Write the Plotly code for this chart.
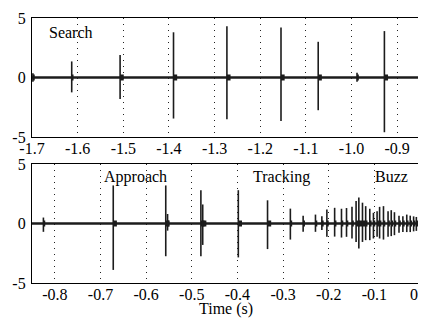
import plotly.graph_objects as go
from plotly.subplots import make_subplots

# ---- data ----
top_window = [-1.7, -0.85]
top_click_t = [-1.698, -1.613, -1.507, -1.390, -1.273, -1.1545, -1.073, -0.988, -0.928]
top_click_hi = [0.35, 1.35, 1.9, 3.8, 4.3, 4.2, 3.0, 0.4, 3.9]
top_click_lo = [-0.35, -1.25, -1.8, -3.45, -3.5, -3.65, -2.75, -0.35, -4.6]

bot_window = [-0.85, 0.0]
bot_click_t = [-0.825, -0.672, -0.557, -0.553, -0.480, -0.476, -0.398, -0.334, -0.284,
               -0.256, -0.229, -0.215,
               -0.204, -0.187, -0.172, -0.161, -0.149, -0.140, -0.134, -0.126, -0.119,
               -0.110, -0.102, -0.094, -0.0885, -0.080, -0.070, -0.063, -0.056, -0.046,
               -0.0375, -0.029, -0.0214, -0.014, -0.008]
bot_click_hi = [0.5, 3.2, 3.2, 0.8, 2.8, 1.6, 2.8, 1.95, 1.25,
                0.65, 0.75, 0.6,
                1.18, 1.32, 1.24, 1.3, 1.4, 1.9, 2.18, 1.75, 1.46,
                1.24, 0.9, 1.03, 1.4, 1.46, 1.03, 1.12, 0.95, 0.66,
                0.6, 0.75, 0.66, 0.6, 0.55]
bot_click_lo = [-0.7, -3.9, -2.75, -0.6, -2.75, -1.8, -2.85, -2.15, -1.35,
                -0.7, -0.7, -0.55,
                -1.12, -1.1, -1.18, -1.12, -1.26, -1.55, -2.1, -1.55, -1.4,
                -1.4, -1.26, -1.12, -1.26, -1.35, -1.12, -1.06, -0.98, -0.78,
                -0.72, -0.72, -0.72, -0.66, -0.62]

top_ticks = [-1.7, -1.6, -1.5, -1.4, -1.3, -1.2, -1.1, -1.0, -0.9]
top_ticktext = ["-1.7", "-1.6", "-1.5", "-1.4", "-1.3", "-1.2", "-1.1", "-1.0", "-0.9"]
bot_ticks = [-0.8, -0.7, -0.6, -0.5, -0.4, -0.3, -0.2, -0.1, 0.0]
bot_ticktext = ["-0.8", "-0.7", "-0.6", "-0.5", "-0.4", "-0.3", "-0.2", "-0.1", "0.0"]
y_ticks = [-5, 0, 5]
y_ticktext = ["-5", "0", "5"]

labels_top = [("Search", -1.668, 3.75)]
labels_bot = [("Approach", -0.697, 3.95), ("Tracking", -0.371, 3.95), ("Buzz", -0.104, 3.95)]
x_title = "Time (s)"

INK = "#1c1c1c"
FONT = "Liberation Serif"

fig = make_subplots(rows=2, cols=1, vertical_spacing=0.102)


def add_panel(row, window, ts, his, los):
    # baseline noise
    fig.add_trace(go.Scatter(x=window, y=[0, 0], mode="lines",
                             line=dict(color=INK, width=2.6), hoverinfo="skip",
                             showlegend=False), row=row, col=1)
    # click tails (dense ringing just after each click)
    tx, ty = [], []
    for t, h in zip(ts, his):
        tx += [t, t + 0.008 if h > 1.5 else t + 0.004, None]
        ty += [0, 0, None]
    fig.add_trace(go.Scatter(x=tx, y=ty, mode="lines",
                             line=dict(color=INK, width=6), hoverinfo="skip",
                             showlegend=False), row=row, col=1)
    # click peaks
    xs, ys = [], []
    for t, h, l in zip(ts, his, los):
        xs += [t, t, None]
        ys += [l, h, None]
    fig.add_trace(go.Scatter(x=xs, y=ys, mode="lines",
                             line=dict(color=INK, width=1.6), hoverinfo="skip",
                             showlegend=False), row=row, col=1)


add_panel(1, top_window, top_click_t, top_click_hi, top_click_lo)
add_panel(2, bot_window, bot_click_t, bot_click_hi, bot_click_lo)

axis_common = dict(showline=True, mirror=True, linecolor="black", linewidth=1.3,
                   ticks="", zeroline=False, automargin=False,
                   tickfont=dict(family=FONT, size=16, color="black"))

grid_style = dict(showgrid=True, gridcolor="#222", griddash="1px,5px", gridwidth=1,
                  ticklabelstandoff=-3, ticklabeloverflow="allow")

fig.update_xaxes(range=top_window, tickvals=top_ticks, ticktext=top_ticktext,
                 row=1, col=1, **grid_style, **axis_common)
fig.update_xaxes(range=bot_window, tickvals=bot_ticks, ticktext=bot_ticktext,
                 row=2, col=1, **grid_style, **axis_common)
fig.update_yaxes(range=[-5, 5], tickvals=y_ticks, ticktext=y_ticktext, showgrid=False,
                 ticklabelstandoff=2, **axis_common)

for txt, x, y in labels_top:
    fig.add_annotation(x=x, y=y, text=txt, showarrow=False, xanchor="left",
                       font=dict(family=FONT, size=16, color="black"), xref="x", yref="y")
for txt, x, y in labels_bot:
    fig.add_annotation(x=x, y=y, text=txt, showarrow=False, xanchor="left",
                       font=dict(family=FONT, size=16, color="black"), xref="x2", yref="y2")

fig.add_annotation(x=0.5, y=-0.058, xref="paper", yref="paper", text=x_title,
                   showarrow=False, yanchor="top",
                   font=dict(family=FONT, size=16, color="black"))

# the page body adds an 8px offset, so the figure is sized to fit the 426x323 window
fig.update_layout(width=418, height=315, margin=dict(l=24, r=6, t=10, b=40),
                  plot_bgcolor="white", paper_bgcolor="white", showlegend=False)

fig.write_html("out.html")
